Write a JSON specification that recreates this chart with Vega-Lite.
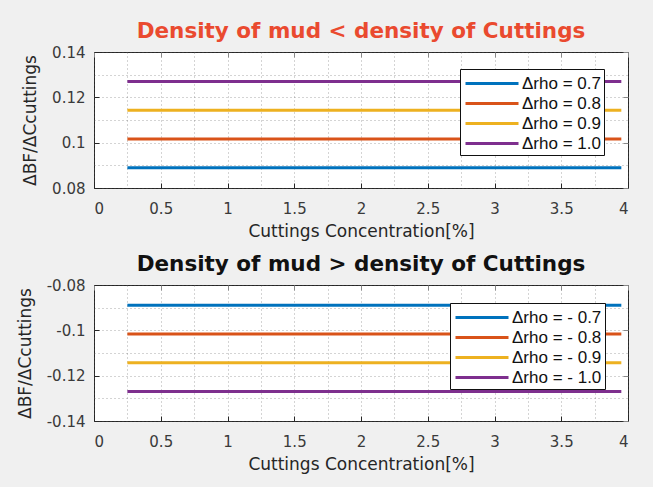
{
  "$schema": "https://vega.github.io/schema/vega-lite/v6.json",
  "padding": {"left": 15, "top": 20, "right": 24, "bottom": 15},
  "background": "#f0f0f0",
  "spacing": 97,
  "bounds": "flush",
  "datasets": {
    "top": [
      {"c": 0.25, "v": 0.0889, "s": "Δrho = 0.7"},
      {"c": 3.95, "v": 0.0889, "s": "Δrho = 0.7"},
      {"c": 0.25, "v": 0.1016, "s": "Δrho = 0.8"},
      {"c": 3.95, "v": 0.1016, "s": "Δrho = 0.8"},
      {"c": 0.25, "v": 0.1143, "s": "Δrho = 0.9"},
      {"c": 3.95, "v": 0.1143, "s": "Δrho = 0.9"},
      {"c": 0.25, "v": 0.127, "s": "Δrho = 1.0"},
      {"c": 3.95, "v": 0.127, "s": "Δrho = 1.0"}
    ],
    "bottom": [
      {"c": 0.25, "v": -0.0889, "s": "Δrho = - 0.7"},
      {"c": 3.95, "v": -0.0889, "s": "Δrho = - 0.7"},
      {"c": 0.25, "v": -0.1016, "s": "Δrho = - 0.8"},
      {"c": 3.95, "v": -0.1016, "s": "Δrho = - 0.8"},
      {"c": 0.25, "v": -0.1143, "s": "Δrho = - 0.9"},
      {"c": 3.95, "v": -0.1143, "s": "Δrho = - 0.9"},
      {"c": 0.25, "v": -0.127, "s": "Δrho = - 1.0"},
      {"c": 3.95, "v": -0.127, "s": "Δrho = - 1.0"}
    ]
  },
  "config": {
    "font": "DejaVu Sans",
    "view": {"fill": "white", "stroke": "#262626", "strokeWidth": 1},
    "title": {"font": "DejaVu Sans", "fontSize": 21.5, "fontWeight": "bold", "offset": 3},
    "axis": {
      "labelFont": "DejaVu Sans", "labelFontSize": 15, "labelColor": "#3a3a3a",
      "titleFont": "DejaVu Sans", "titleFontSize": 17, "titleFontWeight": "normal", "titleColor": "#262626",
      "domain": false, "tickSize": -5, "tickWidth": 1,
      "gridDash": [1, 3], "gridColor": "#555555", "gridOpacity": 0.5, "gridWidth": 1
    },
    "axisX": {"labelPadding": 18, "titlePadding": 7},
    "axisY": {"labelPadding": 14, "titlePadding": 12},
    "legend": {
      "labelFont": "Liberation Sans", "labelFontSize": 17, "labelColor": "#111111",
      "symbolType": "M-0.9,0H4.4", "symbolStrokeWidth": 3, "symbolSize": 400,
      "strokeColor": "#111111", "fillColor": "white", "padding": 3, "rowPadding": 0,
      "labelOffset": 36
    }
  },
  "vconcat": [
    {
      "title": {"text": "Density of mud < density of Cuttings", "color": "#ea4a2f"},
      "width": 534, "height": 136,
      "data": {"name": "top"},
      "layer": [
        {
          "mark": {"type": "line", "strokeWidth": 3},
          "encoding": {
            "x": {"field": "c", "type": "quantitative", "scale": {"domain": [0, 4], "nice": false},
              "axis": {"orient": "bottom", "title": "Cuttings Concentration[%]",
                "values": [0, 0.25, 0.5, 0.75, 1, 1.25, 1.5, 1.75, 2, 2.25, 2.5, 2.75, 3, 3.25, 3.5, 3.75, 4],
                "grid": true,
                "labelExpr": "datum.value % 0.5 === 0 ? format(datum.value, '') : ''",
                "tickColor": {"condition": {"test": "datum.value % 0.5 === 0", "value": "#262626"}, "value": "transparent"}}},
            "y": {"field": "v", "type": "quantitative", "scale": {"domain": [0.08, 0.14], "nice": false, "zero": false},
              "axis": {"orient": "left", "title": "ΔBF/ΔCcuttings",
                "values": [0.08, 0.09, 0.1, 0.11, 0.12, 0.13, 0.14],
                "grid": true,
                "labelExpr": "abs(round(datum.value * 100)) % 2 === 0 ? format(datum.value, '') : ''",
                "tickColor": {"condition": {"test": "abs(round(datum.value * 100)) % 2 === 0", "value": "#262626"}, "value": "transparent"}}},
            "color": {"field": "s", "type": "nominal",
              "scale": {"domain": ["Δrho = 0.7", "Δrho = 0.8", "Δrho = 0.9", "Δrho = 1.0"], "range": ["#0072BD", "#D95319", "#EDB120", "#7E2F8E"]},
              "legend": {"orient": "none", "legendX": 366, "legendY": 17, "title": null}}
          }
        },
        {
          "mark": {"type": "line", "opacity": 0},
          "encoding": {
            "x": {"field": "c", "type": "quantitative",
              "axis": {"orient": "top", "title": null, "labels": false, "grid": false, "values": [0, 0.5, 1, 1.5, 2, 2.5, 3, 3.5, 4]}},
            "y": {"field": "v", "type": "quantitative",
              "axis": {"orient": "right", "title": null, "labels": false, "grid": false, "values": [0.08, 0.1, 0.12, 0.14]}}
          }
        }
      ],
      "resolve": {"axis": {"x": "independent", "y": "independent"}}
    },
    {
      "title": {"text": "Density of mud > density of Cuttings", "color": "#111111"},
      "width": 534, "height": 136,
      "data": {"name": "bottom"},
      "layer": [
        {
          "mark": {"type": "line", "strokeWidth": 3},
          "encoding": {
            "x": {"field": "c", "type": "quantitative", "scale": {"domain": [0, 4], "nice": false},
              "axis": {"orient": "bottom", "title": "Cuttings Concentration[%]",
                "values": [0, 0.25, 0.5, 0.75, 1, 1.25, 1.5, 1.75, 2, 2.25, 2.5, 2.75, 3, 3.25, 3.5, 3.75, 4],
                "grid": true,
                "labelExpr": "datum.value % 0.5 === 0 ? format(datum.value, '') : ''",
                "tickColor": {"condition": {"test": "datum.value % 0.5 === 0", "value": "#262626"}, "value": "transparent"}}},
            "y": {"field": "v", "type": "quantitative", "scale": {"domain": [-0.14, -0.08], "nice": false, "zero": false},
              "axis": {"orient": "left", "title": "ΔBF/ΔCcuttings",
                "values": [-0.14, -0.13, -0.12, -0.11, -0.1, -0.09, -0.08],
                "grid": true,
                "labelExpr": "abs(round(datum.value * 100)) % 2 === 0 ? replace(format(datum.value, ''), '\u2212', '-') : ''",
                "tickColor": {"condition": {"test": "abs(round(datum.value * 100)) % 2 === 0", "value": "#262626"}, "value": "transparent"}}},
            "color": {"field": "s", "type": "nominal",
              "scale": {"domain": ["Δrho = - 0.7", "Δrho = - 0.8", "Δrho = - 0.9", "Δrho = - 1.0"], "range": ["#0072BD", "#D95319", "#EDB120", "#7E2F8E"]},
              "legend": {"orient": "none", "legendX": 356, "legendY": 18, "title": null}}
          }
        },
        {
          "mark": {"type": "line", "opacity": 0},
          "encoding": {
            "x": {"field": "c", "type": "quantitative",
              "axis": {"orient": "top", "title": null, "labels": false, "grid": false, "values": [0, 0.5, 1, 1.5, 2, 2.5, 3, 3.5, 4]}},
            "y": {"field": "v", "type": "quantitative",
              "axis": {"orient": "right", "title": null, "labels": false, "grid": false, "values": [-0.14, -0.12, -0.1, -0.08]}}
          }
        }
      ],
      "resolve": {"axis": {"x": "independent", "y": "independent"}}
    }
  ],
  "resolve": {"scale": {"color": "independent"}, "legend": {"color": "independent"}}
}
